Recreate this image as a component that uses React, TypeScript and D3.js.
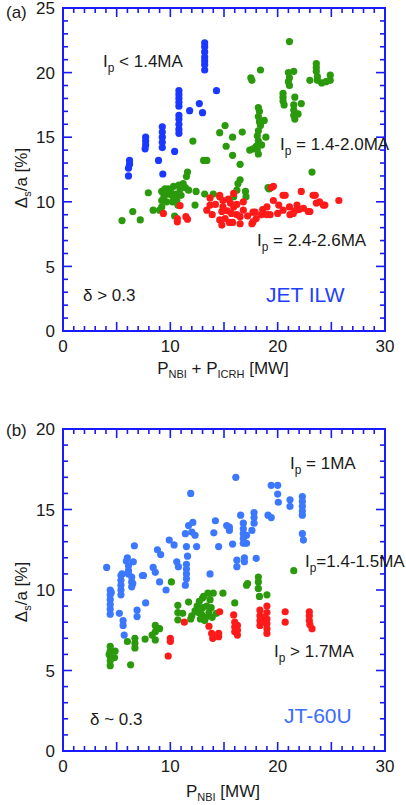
import React from 'react';
import * as d3 from 'd3';

type Pt = [number, number];

// ---------- Panel (a) JET ILW ----------
const jetLowIp: Pt[] = [
  [13.2,22.3],[13.2,22.0],[13.2,21.6],[13.2,21.2],[13.2,20.9],[13.2,20.6],[13.2,20.2],
  [14.3,18.6],[12.7,17.6],[13.0,16.9],[11.8,17.05],
  [10.8,18.6],[10.8,18.3],[10.8,18.0],[10.8,17.7],[10.8,17.4],
  [10.8,16.7],[10.8,16.4],[10.8,16.0],[10.8,15.6],[10.8,15.3],
  [9.25,15.8],[9.25,15.4],[9.25,15.0],[9.25,14.6],[9.25,14.2],
  [10.4,13.9],[8.9,13.2],[9.3,12.15],
  [7.7,15.0],[7.7,14.7],[7.7,14.4],[7.65,14.1],
  [6.2,13.2],[6.2,12.9],[6.1,12.6],[6.1,12.0]
];
const jetMidIp: Pt[] = [
  [21.1,22.4],[17.5,19.6],[17.6,19.4],[18.4,20.2],
  [21.0,20.0],[21.1,19.6],[21.0,19.3],[21.1,19.0],[21.5,20.1],
  [20.5,18.4],[20.5,18.1],[20.5,17.8],[20.6,17.5],[21.6,18.1],[22.2,17.6],
  [21.5,17.5],[21.5,17.1],[21.5,16.7],[21.6,16.4],[21.9,16.8],
  [23.6,20.7],[23.6,20.4],[23.6,20.1],[23.7,19.7],[23.7,19.4],[23.0,19.4],[24.1,19.2],[24.5,19.3],[24.9,19.8],[24.9,19.4],
  [18.2,17.3],[18.3,17.0],[18.2,16.6],[18.3,16.2],[18.4,15.9],[18.2,15.5],[18.1,15.1],[18.2,14.7],[18.0,14.3],[18.1,14.0],[18.2,13.7],
  [18.75,16.3],[18.9,15.0],[17.4,14.0],[17.7,14.1],[18.5,14.4],
  [15.1,15.9],[14.6,15.35],[15.8,15.0],[16.7,15.4],[15.2,14.3],[15.8,13.6],[16.5,12.9],[12.1,14.7],[13.1,13.2],[13.4,13.2],[23.2,12.3],
  [19.2,11.0],[19.1,11.1],[16.5,11.7],[16.3,11.4],[16.2,10.9],[17.0,10.8],[17.05,10.4],[15.9,10.4],
  [11.6,12.3],[11.5,11.95],[11.2,11.4],[10.9,11.0],[9.8,11.0],[9.2,10.8],[7.95,10.7],[10.1,10.5],[10.4,10.3],[11.7,10.9],[12.4,10.8],
  [9.2,10.1],[9.65,10.0],[10.6,10.1],[9.2,9.6],[8.4,9.35],[10.7,9.75],[12.3,9.75],[13.2,10.6],[14.0,10.6],
  [6.5,9.25],[5.5,8.55],[7.2,8.6],[9.0,9.35],[10.4,8.9],
  [10.0,10.9],[10.3,11.2],[9.7,10.6],[10.5,10.6],[11.0,10.5],[9.4,10.4],[10.2,10.0],[11.4,11.1],[10.8,11.3],[9.5,11.0]
];
const jetHighIp: Pt[] = [
  [9.35,9.1],[10.9,9.7],[10.65,8.7],[10.65,8.45],[11.45,8.85],[11.6,8.65],
  [13.4,9.35],[13.7,9.75],[13.7,10.3],[14.6,10.4],[14.6,10.5],[14.8,9.25],[14.9,9.6],[14.6,8.6],[14.8,8.2],
  [15.9,10.65],[15.6,9.9],[14.9,10.1],[15.9,9.6],[15.8,8.4],[16.5,8.3],[16.8,10.0],[16.8,9.35],[16.5,8.85],[15.7,9.1],
  [15.3,9.3],[15.1,8.7],[16.2,9.0],[15.5,8.4],[17.7,9.2],[17.7,8.45],[17.6,8.3],[18.0,8.7],[18.5,9.0],[17.9,9.2],
  [19.0,9.6],[19.0,9.0],[19.3,9.0],[19.6,10.1],[19.6,11.2],[19.4,11.1],[20.1,9.75],[20.5,9.35],[20.5,10.5],[20.7,10.5],
  [21.1,9.6],[21.15,9.0],[21.45,9.1],[21.8,9.75],[22.2,10.8],[22.4,9.5],[22.85,9.25],[23.0,9.25],[23.3,10.5],[23.5,10.5],
  [23.6,9.9],[23.9,10.0],[24.25,9.75],[24.4,9.75],[25.7,10.1],[18.6,9.4],[20.0,9.1],[21.6,9.3],[22.0,9.4],[17.2,8.9],
  [14.2,9.8],[13.9,9.0],[16.2,9.8],[15.4,10.2]
];

// ---------- Panel (b) JT-60U ----------
const jtLowIp: Pt[] = [
  [16.1,17.0],[11.9,16.0],[19.4,16.5],[20.0,16.5],[20.0,15.96],[20.06,15.45],[21.15,15.6],[21.15,15.2],
  [22.3,15.8],[22.3,15.5],[22.3,15.2],[22.3,14.9],[22.3,14.65],[22.3,13.5],[22.4,13.1],
  [19.1,14.65],[19.4,14.5],[17.8,14.8],[17.8,14.5],[17.8,14.15],[16.55,14.65],
  [16.8,14.15],[16.8,13.8],[16.8,13.5],[16.8,13.2],[16.8,12.9],[17.1,13.4],[17.1,12.9],[17.6,13.7],
  [15.5,13.9],[15.5,13.7],[15.25,14.0],[14.2,14.3],[14.05,13.55],[14.5,12.7],[15.8,12.85],
  [16.2,11.85],[16.2,11.45],[16.9,12.0],[16.9,11.75],[18.0,11.97],
  [12.1,14.2],[11.7,14.0],[11.4,13.5],[12.0,13.6],[12.3,13.4],[9.9,13.1],[10.35,12.8],[11.5,12.7],[12.45,12.7],
  [6.65,12.75],[8.8,12.5],[9.1,12.2],[11.6,12.1],[4.07,11.4],[6.0,12.0],[6.55,11.75],[8.4,11.4],[8.6,11.1],[10.6,11.75],[10.75,11.45],
  [11.5,11.6],[11.5,11.3],[11.5,11.0],[11.5,10.7],[11.4,10.3],[13.7,11.0],[9.0,10.5],[9.6,10.0],[7.5,10.9],
  [6.1,11.5],[6.1,11.2],[6.1,11.0],[5.5,11.0],[5.9,11.8],[5.4,10.9],[5.4,10.6],[5.4,10.3],[5.4,10.0],[5.4,9.7],
  [6.4,10.8],[6.4,10.5],[6.4,10.2],[6.5,10.4],[7.4,10.9],
  [4.4,10.0],[4.4,9.7],[4.4,9.4],[4.4,9.1],[4.4,8.8],[4.4,8.5],[4.5,9.85],[5.25,8.55],[5.6,8.1],[5.6,7.8],[5.7,7.2],
  [6.9,8.75],[6.9,8.35],[7.7,9.2]
];
const jtMidIp: Pt[] = [
  [4.4,6.5],[4.4,6.2],[4.4,5.9],[4.4,5.6],[4.4,5.3],[4.3,6.0],[4.85,6.2],[4.8,5.8],[6.3,5.35],[6.0,6.8],
  [6.7,7.0],[6.7,6.7],[6.7,6.4],[7.65,6.95],[8.6,7.8],[8.6,7.4],[8.6,6.9],[9.0,7.6],[8.3,7.2],
  [10.1,10.5],[10.7,9.05],[10.7,8.6],[10.7,8.15],[11.7,9.25],[11.15,8.55],
  [12.0,8.4],[12.3,8.7],[12.5,9.0],[12.7,9.3],[12.9,8.5],[13.0,8.9],[13.1,9.6],[13.3,8.3],[13.4,9.0],[13.5,9.8],
  [13.6,8.6],[13.7,9.4],[13.8,8.9],[14.0,9.8],[12.8,8.2],[13.2,8.1],[12.6,8.6],[13.9,8.3],[11.9,8.2],[13.0,9.5],
  [14.9,9.8],[14.3,8.55],[16.0,9.2],[18.2,10.8],[18.2,10.5],[18.2,10.1],[17.1,10.3],[17.2,10.4],[19.0,9.7],[18.3,9.6],[21.5,11.2]
];
const jtHighIp: Pt[] = [
  [9.8,5.9],[10.0,7.0],[10.0,6.8],[11.3,8.0],[14.6,8.65],[13.6,7.75],[13.85,7.3],[14.5,7.1],[13.95,7.0],[14.5,7.3],
  [15.9,8.45],[16.0,8.0],[16.0,7.7],[16.0,7.4],[16.25,7.8],[16.25,7.5],[16.25,7.2],
  [18.35,8.75],[18.35,8.4],[18.35,8.1],[18.35,7.8],[19.0,9.0],[19.0,8.6],[19.0,8.2],[19.0,7.9],[19.0,7.6],[19.0,7.3],[18.7,8.3],[18.6,8.0],
  [20.7,8.65],[20.7,8.0],[22.95,8.65],[22.95,8.4],[22.95,8.1],[23.0,7.85],[23.2,7.6]
];

const xTickLabels = [0, 10, 20, 30];
const jetYTickLabels = [0, 5, 10, 15, 20, 25];
const jtYTickLabels = [0, 5, 10, 15, 20];

const FONT = "'Liberation Sans', Arial, Helvetica, sans-serif";
const FRAME = '#1a1aff';
const TXT = '#1a1a1a';
const GREEN = '#2a9a0c';
const RED = '#ff1a1a';

type Series = { data: Pt[]; color: string };

function Panel(props: {
  top: number; bottom: number; yMax: number; yLabels: number[]; series: Series[];
}) {
  const { top, bottom, yMax, yLabels, series } = props;
  const left = 63, right = 385;
  const x = d3.scaleLinear().domain([0, 30]).range([left, right]);
  const y = d3.scaleLinear().domain([0, yMax]).range([bottom, top]);
  const xMinor = d3.range(0, 31, 1);
  const yMinor = d3.range(0, yMax + 1, 1);
  const ticks: JSX.Element[] = [];
  xMinor.forEach((v) => {
    const L = v % 5 === 0 ? 9 : 5;
    ticks.push(<line key={'xb' + v} x1={x(v)} x2={x(v)} y1={bottom} y2={bottom - L} />);
    ticks.push(<line key={'xt' + v} x1={x(v)} x2={x(v)} y1={top} y2={top + L} />);
  });
  yMinor.forEach((v) => {
    const L = v % 5 === 0 ? 9 : 5;
    ticks.push(<line key={'yl' + v} x1={left} x2={left + L} y1={y(v)} y2={y(v)} />);
    ticks.push(<line key={'yr' + v} x1={right} x2={right - L} y1={y(v)} y2={y(v)} />);
  });
  return (
    <g>
      {series.map((s, i) => (
        <g key={i} fill={s.color}>
          {s.data.map((d, j) => (
            <circle key={j} cx={x(d[0])} cy={y(d[1])} r={3.6} />
          ))}
        </g>
      ))}
      <g stroke={FRAME} strokeWidth={1.6}>{ticks}</g>
      <rect x={left} y={top} width={right - left} height={bottom - top} fill="none" stroke={FRAME} strokeWidth={2} />
      <g fontFamily={FONT} fontSize={17} fill={TXT}>
        {xTickLabels.map((v) => (
          <text key={'xl' + v} x={x(v)} y={bottom + 21} textAnchor="middle">{v}</text>
        ))}
        {yLabels.map((v) => (
          <text key={'yl' + v} x={left - 8} y={y(v)} dy="0.36em" textAnchor="end">{v}</text>
        ))}
      </g>
    </g>
  );
}

function Ip(props: { x: number; y: number; rest: string; size?: number }) {
  const s = props.size ?? 17;
  return (
    <text x={props.x} y={props.y} fontFamily={FONT} fontSize={s} fill={TXT}>
      I<tspan fontSize={s * 0.7} dy={5}>p</tspan><tspan dy={-5}>{props.rest}</tspan>
    </text>
  );
}

export default function App() {
  return (
    <svg width={406} height={805} style={{ position: 'absolute', left: 0, top: 0, background: '#fff' }}>
      <Panel top={8} bottom={331} yMax={25} yLabels={jetYTickLabels}
        series={[{ data: jetLowIp, color: '#1a38ff' }, { data: jetMidIp, color: GREEN }, { data: jetHighIp, color: RED }]} />
      <Panel top={429} bottom={751} yMax={20} yLabels={jtYTickLabels}
        series={[{ data: jtLowIp, color: '#3c78ff' }, { data: jtMidIp, color: GREEN }, { data: jtHighIp, color: RED }]} />

      <g fontFamily={FONT} fill={TXT}>
        <text x={6} y={18} fontSize={17}>(a)</text>
        <text x={6} y={436} fontSize={17}>(b)</text>

        <text transform="translate(27,178) rotate(-90)" fontSize={17} textAnchor="middle">
          Δ<tspan fontSize={11} dy={4}>s</tspan><tspan dy={-4}>/a [%]</tspan>
        </text>
        <text transform="translate(27,592) rotate(-90)" fontSize={17} textAnchor="middle">
          Δ<tspan fontSize={11} dy={4}>s</tspan><tspan dy={-4}>/a [%]</tspan>
        </text>

        <text x={223} y={374} fontSize={17} textAnchor="middle">
          P<tspan fontSize={11} dy={4}>NBI</tspan><tspan dy={-4}> + P</tspan><tspan fontSize={11} dy={4}>ICRH</tspan><tspan dy={-4}> [MW]</tspan>
        </text>
        <text x={223} y={797} fontSize={17} textAnchor="middle">
          P<tspan fontSize={11} dy={4}>NBI</tspan><tspan dy={-4}> [MW]</tspan>
        </text>

        <text x={83} y={301} fontSize={17}>δ &gt; 0.3</text>
        <text x={90} y={725} fontSize={17}>δ ~ 0.3</text>
        <text x={266} y={302} fontSize={21} fill="#2040ff">JET ILW</text>
        <text x={284} y={723} fontSize={21} fill="#3a6cff">JT-60U</text>
      </g>

      <Ip x={103} y={67} rest=" < 1.4MA" />
      <Ip x={280} y={150} rest=" = 1.4-2.0MA" />
      <Ip x={257} y={246} rest=" = 2.4-2.6MA" />
      <Ip x={290} y={469} rest=" = 1MA" />
      <Ip x={305} y={567} rest="=1.4-1.5MA" />
      <Ip x={274} y={657} rest=" > 1.7MA" />
    </svg>
  );
}
